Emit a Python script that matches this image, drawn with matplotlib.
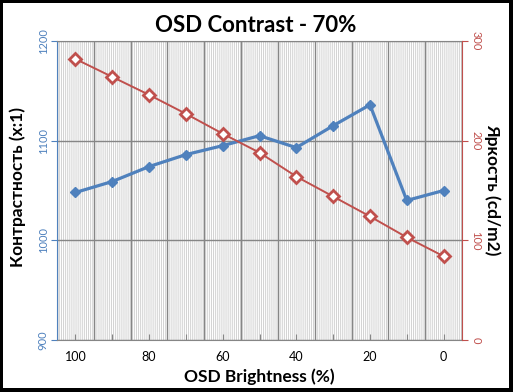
import matplotlib
matplotlib.use('Agg')
import matplotlib.pyplot as plt
from matplotlib.patches import Rectangle
import numpy as np

plt.rcParams['font.family'] = ['Lato', 'DejaVu Sans']
plt.rcParams['hatch.linewidth'] = 0.7

# data
brightness = [100, 90, 80, 70, 60, 50, 40, 30, 20, 10, 0]
contrast = [1048, 1059, 1074, 1086, 1095, 1105, 1093, 1115, 1136, 1040, 1050]
luminance = [282, 264, 246, 227, 207, 188, 164, 144, 124, 103, 84]
tick_labels = [str(b) if i % 2 == 0 else '' for i, b in enumerate(brightness)]

blue = '#4F81BD'
red = '#C0504D'
grid_grey = '#868686'

W, H = 513, 392
fig = plt.figure(figsize=(W / 100, H / 100), dpi=100)

# black frame round the chart
fig.patch.set_facecolor('black')
fig.add_artist(Rectangle((3 / W, 4 / H), 506 / W, 385 / H, transform=fig.transFigure,
                         facecolor='white', edgecolor='none', zorder=-10))

ax = fig.add_axes([57 / W, 1 - 340 / H, 405 / W, 299 / H])
ax.set_facecolor('white')
# light vertical fill pattern of the plot area
ax.add_patch(Rectangle((0, 0), 1, 1, transform=ax.transAxes, facecolor='white',
                       edgecolor='#D2D2D2', hatch='|' * 8, lw=0, zorder=0))

x = np.arange(len(brightness))
ax.plot(x, contrast, color=blue, lw=2.3, marker='D', ms=5.5, mfc=blue, mec=blue, zorder=4)
ax.set_xlim(-0.5, len(x) - 0.5)
ax.set_ylim(900, 1200)
ax.set_yticks([900, 1000, 1100, 1200])
ax.set_xticks(x)
ax.set_xticklabels(tick_labels, fontsize=9)
ax.set_xticks(np.arange(-0.5, len(x), 1), minor=True)
ax.tick_params(axis='x', which='major', direction='in', length=4, color=grid_grey, pad=8)
ax.tick_params(axis='x', which='minor', length=0)
ax.tick_params(axis='y', direction='out', length=4, color=blue, labelcolor=blue, labelsize=8,
               labelrotation=90, pad=2)
for lab in ax.get_yticklabels():
    lab.set_va('center')
ax.grid(True, axis='x', which='minor', color=grid_grey, lw=1, zorder=1)
ax.grid(True, axis='y', which='major', color=grid_grey, lw=1, zorder=1)
ax.set_axisbelow(True)
ax.spines['left'].set_color(blue)
ax.spines['bottom'].set_color(grid_grey)
ax.spines['top'].set_color(grid_grey)
ax.spines['right'].set_visible(False)

ax2 = ax.twinx()
ax2.plot(x, luminance, color=red, lw=1.4, marker='D', ms=6.5, mfc='white', mec=red, mew=2, zorder=5)
ax2.set_ylim(0, 300)
ax2.set_yticks([0, 100, 200, 300])
ax2.tick_params(axis='y', direction='out', length=4, color=red, labelcolor=red, labelsize=8,
                labelrotation=-90, pad=2)
for lab in ax2.get_yticklabels():
    lab.set_va('center')
ax2.spines['right'].set_color(red)
for s in ['left', 'top', 'bottom']:
    ax2.spines[s].set_visible(False)

fig.text(256 / W, 1 - 25 / H, 'OSD Contrast - 70%', ha='center', va='center',
         fontsize=16, fontweight='bold')
fig.text(259 / W, 1 - 377 / H, 'OSD Brightness (%)', ha='center', va='center',
         fontsize=12.5, fontweight='bold')
fig.text(18 / W, 1 - 187 / H, 'Контрастность (x:1)', ha='center', va='center',
         rotation=90, fontsize=12.5, fontweight='bold')
fig.text(492 / W, 1 - 190 / H, 'Яркость (cd/m2)', ha='center', va='center',
         rotation=-90, fontsize=12.5, fontweight='bold')

fig.savefig('out.png', dpi=100)
